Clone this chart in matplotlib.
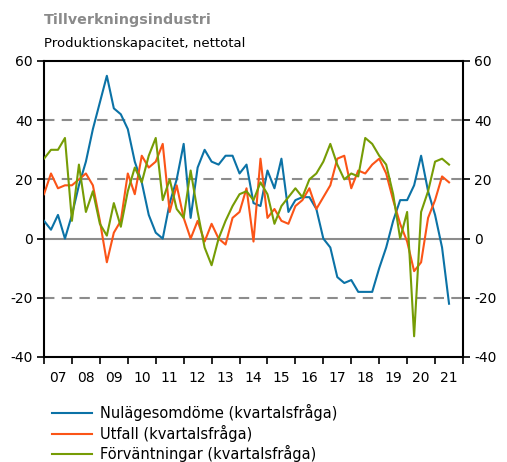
import matplotlib
matplotlib.use("Agg")
import matplotlib.pyplot as plt
import numpy as np

# Quarterly data 2007Q1 .. 2021Q3
start_year = 2007
nulage = [6, 3, 8, 0, 8, 18, 26, 37, 46, 55, 44, 42, 37, 26, 19, 8, 2, 0, 12, 20,
          32, 7, 24, 30, 26, 25, 28, 28, 22, 25, 12, 11, 23, 17, 27, 9, 13, 14, 14, 10,
          0, -3, -13, -15, -14, -18, -18, -18, -10, -3, 6, 13, 13, 18, 28, 16, 8, -3, -22]
utfall = [15, 22, 17, 18, 18, 20, 22, 18, 6, -8, 2, 6, 22, 15, 28, 24, 26, 32, 9, 18,
          7, 0, 6, -1, 5, 0, -2, 7, 9, 17, -1, 27, 7, 10, 6, 5, 11, 13, 17, 10,
          14, 18, 27, 28, 17, 23, 22, 25, 27, 22, 13, 5, -1, -11, -8, 7, 13, 21, 19]
forvant = [27, 30, 30, 34, 6, 25, 9, 16, 5, 1, 12, 4, 16, 24, 19, 28, 34, 13, 20, 10,
           7, 23, 9, -3, -9, 0, 6, 11, 15, 16, 13, 19, 15, 5, 11, 14, 17, 14, 20, 22,
           26, 32, 25, 20, 22, 21, 34, 32, 28, 25, 15, 0, 9, -33, 9, 16, 26, 27, 25]
series_labels = ["Nulägesomdöme (kvartalsfråga)", "Utfall (kvartalsfråga)",
                 "Förväntningar (kvartalsfråga)"]
year_labels = ["07", "08", "09", "10", "11", "12", "13", "14", "15", "16", "17",
               "18", "19", "20", "21"]
yticks = [60, 40, 20, 0, -20, -40]

colors = ["#0b72a6", "#fb5417", "#769c05"]

fig = plt.figure(figsize=(5.07, 4.62), dpi=100)
ax = fig.add_axes([44/507, 1-357/462, (463-44)/507, (357-61)/462])

x = start_year + np.arange(len(nulage)) / 4.0

for yv in [40, 20, -20]:
    ax.axhline(yv, color="#8c8c8c", lw=1.5, dashes=(5, 3.5), zorder=1)
ax.axhline(0, color="#8c8c8c", lw=1.5, zorder=1)

for vals, c, lab in zip([nulage, utfall, forvant], colors, series_labels):
    ax.plot(x, vals, color=c, lw=1.5, label=lab, zorder=3)

ax.set_xlim(2007, 2022)
ax.set_ylim(-40, 60)
ax.set_yticks(yticks)
ax.set_yticklabels([str(v) for v in yticks])
ax.tick_params(axis="y", which="both", left=True, right=True, labelleft=True,
               labelright=True, direction="out", length=5, width=1.2,
               labelsize=10, pad=3)
ax.set_xticks(np.arange(2007, 2023))
ax.set_xticklabels([])
ax.set_xticks(np.arange(2007, 2022) + 0.5, minor=True)
ax.set_xticklabels(year_labels, minor=True)
ax.tick_params(axis="x", which="major", direction="out", length=5, width=1.2)
ax.tick_params(axis="x", which="minor", length=0, labelsize=10, pad=10)
for s in ax.spines.values():
    s.set_linewidth(1.5)
    s.set_color("black")

fig.text(44/507, 1-20/462, "Tillverkningsindustri", fontsize=10.3, fontweight="bold",
         color="#8a8a8a", va="center", ha="left")
fig.text(44/507, 1-44/462, "Produktionskapacitet, nettotal", fontsize=9.5,
         color="black", va="center", ha="left")

handles, labels = ax.get_legend_handles_labels()
fig.legend(handles, labels, loc="upper left", bbox_to_anchor=(52/507, 1-404/462),
           frameon=False, fontsize=10.5, handlelength=2.75, handletextpad=0.55,
           labelspacing=0.25, borderaxespad=0, borderpad=0)

fig.savefig("out.png", dpi=100)
